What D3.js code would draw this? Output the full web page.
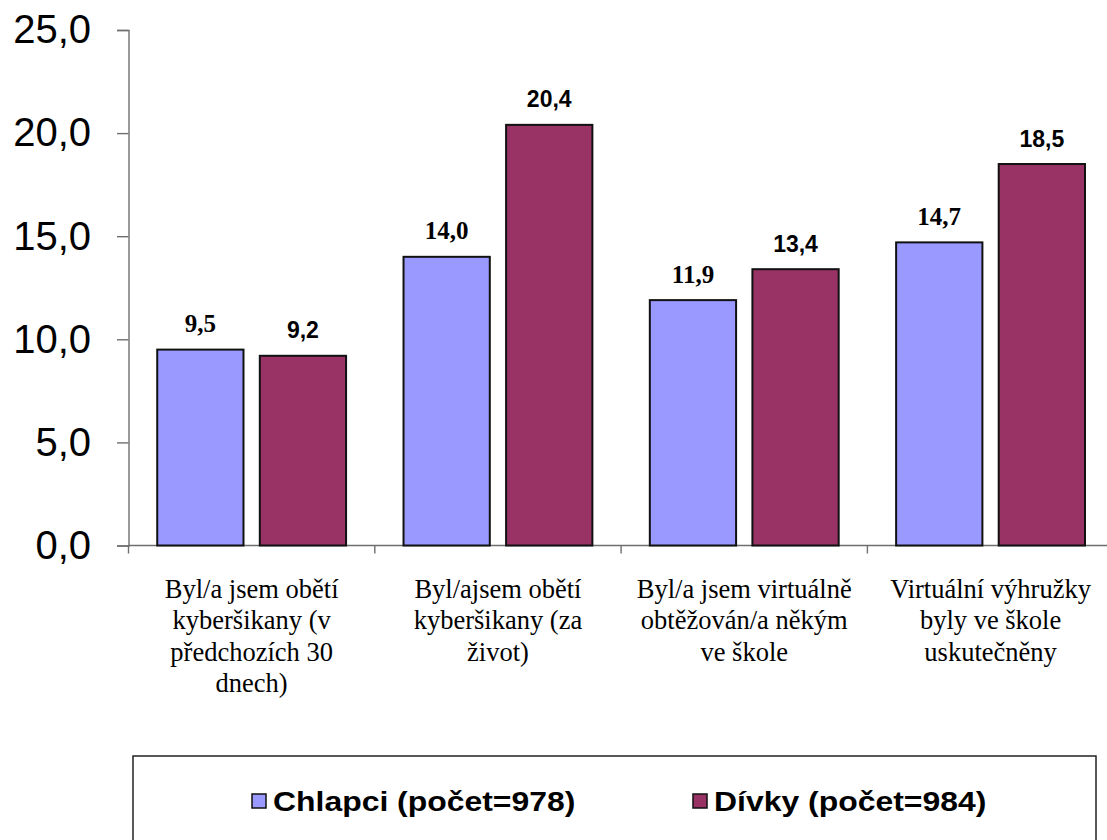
<!DOCTYPE html>
<html>
<head>
<meta charset="utf-8">
<script src="https://cdn.jsdelivr.net/npm/d3@7/dist/d3.min.js"></script>
<style>
  html, body { margin: 0; padding: 0; background: #ffffff; }
  svg { display: block; }
</style>
</head>
<body>
<svg id="chart" width="1107" height="840"></svg>
<script>
// ---- data ----
const categories = [
  ["Byl/a jsem obětí", "kyberšikany (v", "předchozích 30", "dnech)"],
  ["Byl/ajsem obětí", "kyberšikany (za", "život)"],
  ["Byl/a jsem virtuálně", "obtěžován/a někým", "ve škole"],
  ["Virtuální výhružky", "byly ve škole", "uskutečněny"]
];
const seriesNames = ["Chlapci (počet=978)", "Dívky (počet=984)"];
const chlapci = [9.5, 14.0, 11.9, 14.7];
const divky = [9.2, 20.4, 13.4, 18.5];
const yTicks = [0, 5, 10, 15, 20, 25];
const colors = ["#9999FF", "#993366"];

// ---- layout ----
const svg = d3.select("#chart");
const plot = { left: 128.5, right: 1113.7, top: 30, bottom: 545.5 };
const catIds = categories.map((c, i) => i);
const seriesData = [chlapci, divky];

const x0 = d3.scaleBand().domain(catIds).range([plot.left, plot.right]).paddingInner(0).paddingOuter(0);
const x1 = d3.scaleBand().domain([0, 1]).range([0, x0.bandwidth()]).paddingInner(0.159).paddingOuter(0.28);
const y = d3.scaleLinear().domain([0, 25]).range([plot.bottom, plot.top]);
const fmt = v => d3.format(".1f")(v).replace(".", ",");

// y axis
const yAxis = svg.append("g")
  .attr("transform", `translate(${plot.left},0)`)
  .call(d3.axisLeft(y).tickValues(yTicks).tickSize(11.5).tickPadding(26).tickFormat(fmt));
yAxis.select(".domain").attr("stroke", "#6f6f6f").attr("stroke-width", 1.4);
yAxis.selectAll(".tick line").attr("stroke", "#6f6f6f").attr("stroke-width", 1.4);
yAxis.selectAll(".tick text")
  .attr("font-family", "Arial, 'Liberation Sans', sans-serif")
  .attr("font-size", 40)
  .attr("fill", "#000");

// x axis line + category boundary ticks
svg.append("line")
  .attr("x1", plot.left).attr("x2", plot.right)
  .attr("y1", y(0)).attr("y2", y(0))
  .attr("stroke", "#6f6f6f").attr("stroke-width", 1.4);
const boundaries = catIds.map(i => x0(i)).concat([x0(catIds[catIds.length - 1]) + x0.bandwidth()]);
svg.selectAll(".xtick").data(boundaries).enter().append("line")
  .attr("x1", d => d).attr("x2", d => d)
  .attr("y1", y(0)).attr("y2", y(0) + 8)
  .attr("stroke", "#6f6f6f").attr("stroke-width", 1.4);

// bars
const groups = svg.selectAll(".cat").data(catIds).enter().append("g")
  .attr("transform", d => `translate(${x0(d)},0)`);
groups.selectAll("rect").data(ci => seriesData.map((s, si) => ({ si, v: s[ci] }))).enter().append("rect")
  .attr("x", d => x1(d.si))
  .attr("y", d => y(d.v))
  .attr("width", x1.bandwidth())
  .attr("height", d => y(0) - y(d.v))
  .attr("fill", d => colors[d.si])
  .attr("stroke", "#111")
  .attr("stroke-width", 2);

// value labels
groups.selectAll("text.val").data(ci => seriesData.map((s, si) => ({ si, v: s[ci] }))).enter().append("text")
  .attr("class", "val")
  .attr("x", d => x1(d.si) + x1.bandwidth() / 2)
  .attr("y", d => y(d.v) - 17.5)
  .attr("text-anchor", "middle")
  .attr("font-weight", "bold")
  .attr("font-family", d => d.si === 0 ? "'Times New Roman', 'Liberation Serif', serif" : "Arial, 'Liberation Sans', sans-serif")
  .attr("font-size", d => d.si === 0 ? 25 : 23)
  .attr("fill", "#000")
  .text(d => fmt(d.v));

// category labels
const lineGap = 31.5;
svg.selectAll(".catlabel").data(catIds).enter().append("text")
  .attr("text-anchor", "middle")
  .attr("font-family", "'Times New Roman', 'Liberation Serif', serif")
  .attr("font-size", 26.5)
  .attr("fill", "#000")
  .each(function (ci) {
    const t = d3.select(this);
    categories[ci].forEach((line, li) => {
      t.append("tspan")
        .attr("x", x0(ci) + x0.bandwidth() / 2)
        .attr("y", 597.5 + li * lineGap)
        .text(line);
    });
  });

// legend
const legend = svg.append("g");
legend.append("rect")
  .attr("x", 133).attr("y", 756)
  .attr("width", 963).attr("height", 110)
  .attr("fill", "#fff").attr("stroke", "#222").attr("stroke-width", 1.5);
const legendX = [252, 693];
const items = legend.selectAll(".li").data(seriesNames).enter().append("g")
  .attr("transform", (d, i) => `translate(${legendX[i]},0)`);
items.append("rect")
  .attr("x", 0).attr("y", 794)
  .attr("width", 14).attr("height", 14)
  .attr("fill", (d, i) => colors[i])
  .attr("stroke", "#111").attr("stroke-width", 1.5);
items.append("text")
  .attr("transform", "translate(21,811) scale(1.14,1)")
  .attr("font-family", "Arial, 'Liberation Sans', sans-serif")
  .attr("font-weight", "bold")
  .attr("font-size", 28)
  .attr("fill", "#000")
  .text(d => d);
</script>
</body>
</html>
